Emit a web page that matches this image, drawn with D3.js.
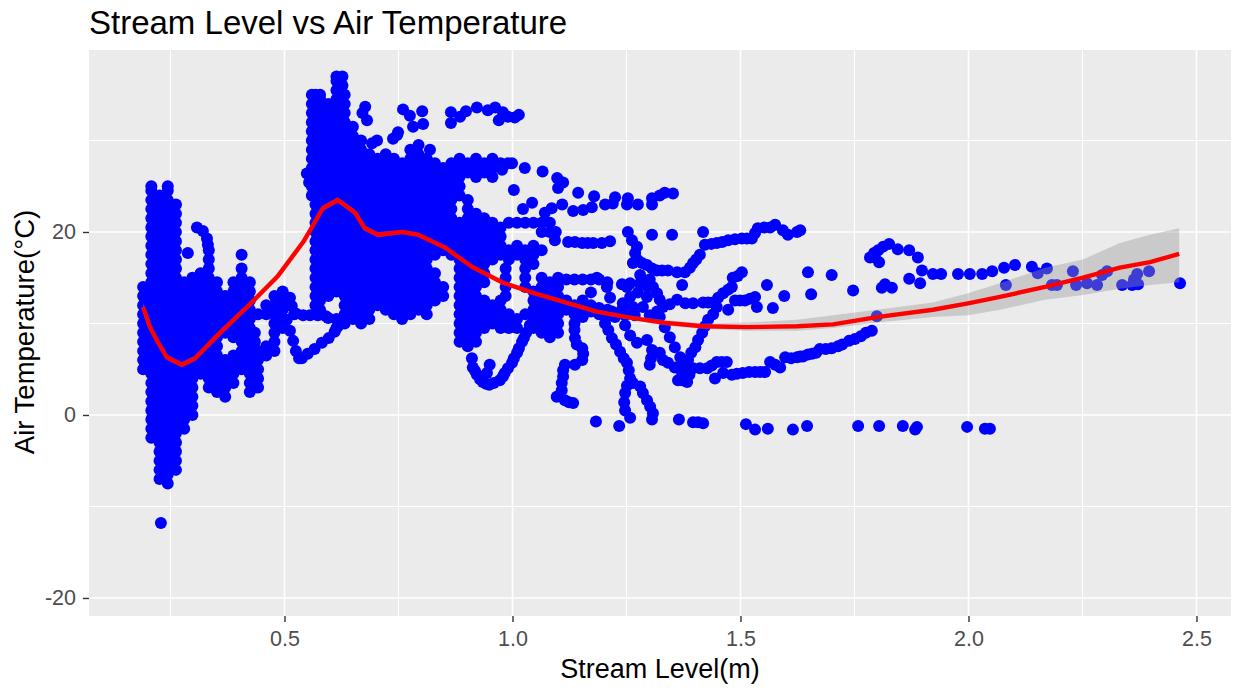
<!DOCTYPE html>
<html>
<head>
<meta charset="utf-8">
<title>Stream Level vs Air Temperature</title>
<script src="https://cdn.jsdelivr.net/npm/d3@7"></script>
<style>
  html, body { margin: 0; padding: 0; background: #fff; }
  svg { display: block; font-family: "Liberation Sans", Arial, sans-serif; }
</style>
</head>
<body>
<div id="chart"></div>
<script>
// tick labels
const xMajorTicks = [0.5, 1.0, 1.5, 2.0, 2.5];
const xMinorTicks = [0.25, 0.75, 1.25, 1.75, 2.25];
const yMajorTicks = [-20, 0, 20];
const yMinorTicks = [-10, 10, 30];

const crowdedLow = [
  [0.19, [14,13,12,11,10,9,8,7,6,5]],
  [0.208, [25,24.5,23.5,22.5,21.5,20.5,19.5,18.5,17.5,16.5,15.5,14.5,13.5,12.5,11.5,10.5,9.5,8.5,7.5,6.5,5.5,4.5,3.5,2.5,1.5,0.5,-0.5,-1.5,-2.5]],
  [0.226, [24,23,22,21,20,19,18,17,16,15,14,13,12,11,10,9,8,7,6,5,4,3,2,1,0,-1,-2,-3,-4,-5,-6,-7]],
  [0.244, [25,24.5,23.5,22.5,21.5,20.5,19.5,18.5,17.5,16.5,15.5,14.5,13.5,12.5,11.5,10.5,9.5,8.5,7.5,6.5,5.5,4.5,3.5,2.5,1.5,0.5,-0.5,-1.5,-2.5,-3.5,-4.5,-5.5,-6.5,-7.5]],
  [0.262, [23,22,21,20,19,18,17,16,15,14,13,12,11,10,9,8,7,6,5,4,3,2,1,0,-1,-2,-3,-4,-5,-6]],
  [0.28, [14.5,13.5,12.5,11.5,10.5,9.5,8.5,7.5,6.5,5.5,4.5,3.5,2.5,1.5,0.5,-0.5,-1.5]],
  [0.298, [15,14,13,12,11,10,9,8,7,6,5,4,3,2,1,0]],
  [0.316, [15.5,14.5,13.5,12.5,11.5,10.5,9.5,8.5,7.5,6.5,5.5,4.5]],
  [0.334, [18,17,16,15,14,13,12,11,10,9,8,7,6,5,4,3]],
  [0.352, [14.5,13.5,12.5,11.5,10.5,9.5,8.5,7.5,6.5,5.5,4.5,3.5,2.5]],
  [0.37, [13,12,11,10,9,6,5,4,3,2]],
  [0.388, [14.5,13.5,12.5,11.5,10.5,9.5,8.5,6.5,5.5,4.5,3.5]],
  [0.406, [17.5,16,15,14,13,12,11,10,9,8,7,6,5]],
  [0.424, [14.5,13.5,12.5,11.5,10.5,9.5,8.5,7.5,6.5,5.5,4.5,3.5,2.5]],
  [0.435, [9,8]],
  [0.442, [11,7,6,5,4,3]],
  [0.46, [12,11,7.5,6.5]],
  [0.478, [13,12,11,10,9,8,7]],
  [0.496, [13.5,12.5,11.5,10.5,9.5]]
];

const crowdedMid = [
  [0.56, [35,34,33,32,31,30,29,28,27,26,25,24]],
  [0.568, [35,23,22,21,20,19,18,17,16,15,14,13,12,11]],
  [0.578, [35,34.5,33.5,32.5,31.5,30.5,29.5,28.5,27.5,26.5,25.5,24.5,23.5,22.5,21.5,20.5,19.5,18.5,17.5,16.5,15.5,14.5,13.5,12.5,11.5,11]],
  [0.596, [34,33,32,31,30,29,28,27,26,25,24,23,22,21,20,19,18,17,16,15,14,13,10.6]],
  [0.614, [37,36.5,35.5,34.5,33.5,32.5,31.5,30.5,29.5,28.5,27.5,26.5,25.5,24.5,23.5,22.5,21.5,20.5,19.5,18.5,17.5,16.5,15.5,14.5,13.5,10.5,9.5]],
  [0.62, [36.5,35.5]],
  [0.627, [37,36]],
  [0.632, [35,34,33,32,31,30,29,28,27,26,25,24,23,22,21,20,19,18,17,16,15,14,13,12,11,10]],
  [0.65, [31.5,30.5,29.5,28.5,27.5,26.5,25.5,24.5,23.5,22.5,21.5,20.5,19.5,18.5,17.5,16.5,15.5,14.5,13.5,12.5,11.5,10.5]],
  [0.668, [30,29,28,27,26,25,24,23,22,21,20,19,18,17,16,15,14,13,12,11,10]],
  [0.686, [28.5,27.5,26.5,25.5,24.5,23.5,22.5,21.5,20.5,19.5,18.5,17.5,16.5,15.5,14.5,13.5,12.5,11.5,10.5]],
  [0.704, [28,27,26,25,24,23,22,21,20,19,18,17,16,15,14,13,12]],
  [0.722, [28.5,27.5,26.5,25.5,24.5,23.5,22.5,21.5,20.5,19.5,18.5,17.5,16.5,15.5,14.5,13.5,12.5,11.5]],
  [0.74, [28,27,26,25,24,23,22,21,20,19,18,17,16,15,14,13,12,11]],
  [0.758, [27.5,26.5,25.5,24.5,23.5,22.5,21.5,20.5,19.5,18.5,17.5,16.5,15.5,14.5,13.5,12.5,11.5,10.5]],
  [0.776, [29,28,27,26,25,24,23,22,21,20,19,18,17,16,15,14,13,12,11]],
  [0.794, [29.5,28.5,27.5,26.5,25.5,24.5,23.5,22.5,21.5,20.5,19.5,18.5,17.5,16.5,15.5,14.5,13.5,12.5,11.5]],
  [0.812, [28,27,26,25,24,23,22,21,20,19,18,17,16,15,14,13,12,11]],
  [0.83, [27.5,26.5,25.5,24.5,23.5,22.5,21.5,20.5,19.5,18.5,17.5,15.5,14.5,13.5,12.5]],
  [0.848, [27,26,25,24,23,22,21,20,19,18,14,13]],
  [0.866, [27.5,26.5,25.5,24.5,23.5,22.5,21.5,20.5,19.5,18.5,17.5]],
  [0.884, [28,27,26,25,24,21,20,19,18,17,16,15,14,13,12,11,10,9,8]],
  [0.902, [27.5,26.5,23.5,22.5,21.5,20.5,19.5,18.5,17.5,16.5,15.5,14.5,13.5,12.5,11.5,10.5,9.5,8.5,7.5]],
  [0.92, [28,27,26,22,21,20,19,18,17,16,15,14,13,12,11,10,9,8]],
  [0.938, [27.5,26.5,21.5,20.5,19.5,18.5,17.5,16.5,15.5,14.5,12.5,11.5,10.5,9.5]],
  [0.956, [28,27,26,21,20,19,18,17,12,11,10]],
  [0.974, [27.5,20.5,19.5,18.5,17.5,12.5,11.5,10.5,9.5]],
  [0.985, [16,15,14,13]],
  [0.992, [21,18,17,11,10,9.5]],
  [1.01, [21,18.5,17.5,10.5,9.5]],
  [1.028, [21,18,17,16,15,14,11]],
  [1.046, [21,18.5,17.5,16.5,13.5,12.5,11.5,10.5,9.5]],
  [1.064, [21,20,18,15,14,13,12,11,10,9]],
  [1.082, [21,20,14.5,13.5,12.5,11.5,10.5,9.5,8.5]],
  [1.1, [15,14,13,12,11,10,9]],
  [1.118, [14.8,12.5,11.5]],
  [1.136, [14.8,12,11,10,9.3]],
  [1.154, [14.8,12.5,11.5,10.7]],
  [1.172, [14.8,13.4,12,11.3]],
  [1.19, [14.8,11.7,11]],
  [1.208, [14.5,11.5,10.8]]
];

// single readings: [level, temperature]
const looseLeft = [
  [0.229,-11.8],[0.288,17.7],[0.308,20.5],[0.321,20.1],[0.33,19.3],[0.332,18.6],
  [0.512,12.8],[0.516,11.9],[0.521,11],[0.505,10.4],[0.512,9.2],[0.519,8.1],[0.525,7],[0.532,6.2],
  [0.538,6.2],[0.551,6.7],[0.566,7.2],[0.582,7.9],[0.597,8.4],[0.61,9.1],[0.617,9.7],
  [0.541,10.9],[0.525,11.1],[0.556,10.9],[0.573,10.9],[0.591,10.8],
  [0.549,26.4],[0.554,25.4]
];

const looseTop = [
  [0.76,33.4],[0.775,32.7],[0.802,33.2],[0.782,31.5],[0.804,31.8],[0.749,30.9],[0.738,30.2],[0.747,30.6],
  [0.865,33.1],[0.865,31.9],[0.885,32.6],[0.898,33.2],[0.922,33.6],[0.946,33.3],[0.962,33.6],[0.979,33.1],
  [0.97,32.2],[0.99,32.6],[1.005,32.5],[1.014,32.8],[0.677,33.7],[0.671,33],[0.681,32.2],
  [0.703,30],[0.692,29.7],[0.819,29],[0.99,27.5],[0.977,26.8],[0.999,27.5],
  [1.027,27],[1.003,24.6],[1.023,22.5],[1.043,23.2],[1.066,26.6],[1.098,25.9],[1.111,25.4],[1.1,24.8],
  [1.144,24.3],[1.179,23.9],[1.225,23.8],[1.253,23.7],[1.275,23],[1.251,23],[1.22,23.1],[1.203,23],
  [1.306,23],[1.306,23.7],[1.323,24],[1.352,24.2],[1.334,24.3],[1.109,23],[1.133,22.3],[1.174,22.7],
  [1.155,22.4],[1.086,22.6],[1.071,22.1],[1.095,20],[1.093,19.1],[1.122,18.9],[1.137,18.9],[1.153,18.8],[1.165,18.8],[1.177,18.8],
  [1.196,18.8],[1.214,19]
];

const looseMiddle = [
  [1.253,20],[1.262,19.1],[1.273,18.4],[1.269,17.7],[1.264,16.6],[1.275,16.9],[1.284,16.6],[1.295,16.4],[1.306,16],[1.317,15.8],[1.328,15.8],
  [1.341,15.8],[1.361,15.6],[1.378,15.6],[1.389,16.1],[1.396,16.6],[1.403,17],[1.411,17.5],[1.422,18.6],[1.436,18.7],[1.448,18.8],[1.46,18.9],[1.473,19.1],[1.488,19.2],
  [1.503,19.3],[1.514,19.3],[1.525,19.3],[1.532,19.9],[1.538,20.4],[1.552,20.5],[1.565,20.5],[1.576,20.8],[1.593,20.2],[1.604,19.7],[1.624,20],
  [1.631,20.2],[1.306,19.7],[1.35,19.7],[1.418,20],[1.28,15.3],[1.258,14.4],[1.24,14.3],[1.28,14.4],[1.286,14.5],
  [1.251,14],[1.297,14],[1.308,14],[1.301,14.8],[1.317,13.3],[1.323,12.6],[1.33,11.8],[1.345,12.1],[1.361,12.6],[1.379,12.2],[1.396,12.2],[1.418,12.3],[1.429,12.3],
  [1.44,12.3],[1.451,12.8],[1.462,13.3],[1.473,13.7],[1.481,14],[1.483,15],[1.494,15.2],[1.503,15.6],[1.372,14.2],[1.488,12.5],[1.499,12.5],[1.51,12.5],[1.521,12.7],
  [1.532,12.9],[1.536,11.8],[1.571,11.7],[1.558,14.2],[1.596,13],[1.648,15.6],[1.655,13.2],[1.7,15.3],
  [1.747,13.6],[1.473,11.5],[1.448,11.8],[1.44,11],[1.429,10.4],[1.422,9.7],[1.416,9],[1.407,8.2],[1.401,7.4],[1.392,6.8],[1.385,6],[1.378,5.4],[1.372,4.6],
  [1.242,12.2],[1.258,12.9],[1.275,13.4],[1.295,12.9],[1.286,11.8],[1.264,11.8],[1.24,11.5],[1.317,11.3],
  [1.301,10.9],[1.268,10.9],[1.247,10.9],[1.225,10.7],[1.247,9.8],
  [1.218,11.3],[1.185,15],[1.207,14],[1.214,12.8],[1.203,10],[1.218,8.4],[1.236,6.9],[1.251,5.7],[1.258,4],
  [1.247,2.4],[1.247,0.5],[1.258,-0.3],[1.264,3.5],[1.28,3.1],[1.295,1.6],[1.308,0.2],[1.306,-0.5],
  [1.21,9.3],[1.227,7.7],[1.244,6.2],[1.255,4.9],[1.251,3.2],[1.245,1.4],[1.286,2.4],[1.302,0.9],
  [1.258,8.7],[1.273,7.9],[1.295,8.2],[1.306,7.1],[1.304,6.2],[1.323,6.8],[1.301,5.5],[1.33,6],[1.341,5.7],[1.356,5.2],[1.363,3.8],[1.372,3.8],
  [1.383,3.6],[1.388,4.4],[1.396,5.1],[1.411,5.1],[1.427,5.1],[1.437,5.4],[1.448,5.8],[1.459,5.8],[1.47,5.8],[1.444,4],[1.462,4.6],[1.481,4.4],[1.492,4.5],[1.505,4.6],
  [1.519,4.7],[1.532,4.7],[1.543,4.7],[1.554,4.7],[1.565,5.8],[1.576,5.5],[1.587,5.2],[1.598,6.3],[1.611,6.2],[1.624,6.3],[1.648,6.6],[1.674,7.2],[1.687,7.2],[1.7,7.3],
  [1.323,10.7],[1.334,9.6],[1.345,8.5],[1.356,7.4],[1.368,6.3],[1.37,5.4],
  [1.631,6.4],[1.637,6.4],[1.657,6.7],[1.666,6.8],[1.714,7.5],[1.723,7.7],[1.738,8.1],[1.751,8.3],[1.764,8.6],[1.775,9],[1.788,9.2],[1.799,10.8]
];

const looseLower = [
  [1.141,7.7],[1.153,7.3],[1.155,6.7],[1.153,6],[1.137,5.5],[1.115,5.5],[1.111,4.9],[1.111,4.2],[1.108,3.5],[1.108,2.7],[1.097,2],[1.115,1.6],[1.124,1.4],
  [1.133,1.3],[1.137,8.4],[0.913,5.2],[0.918,4.8],[0.922,4.4],[0.929,3.9],[0.935,3.6],[0.942,3.4],[0.949,3.3],[0.959,3.5],[0.972,3.8],[0.979,4.2],[0.983,4.6],[0.99,5.1],[0.999,5.7],[1.003,6.2],
  [1.01,6.8],[1.014,7.3],[1.021,8],[1.025,8.4],[1.03,9],[0.95,5.5],[0.944,4.6],[0.911,6.2],[1.038,9.8],
  [1.183,-0.7],[1.234,-1.2],[1.365,-0.5],[1.396,-0.8],[1.407,-0.8],[1.418,-0.9],[1.512,-1],[1.532,-1.6],
  [1.56,-1.5],[1.615,-1.6],[1.646,-1.2],[1.758,-1.2],[1.804,-1.2],[1.856,-1.2],[1.883,-1.6],[1.887,-1.3],
  [1.997,-1.3],[2.036,-1.5],[2.047,-1.5]
];

const looseRight = [
  [1.784,17.2],[1.793,17.7],[1.802,18],[1.813,18.4],[1.826,18.7],[1.845,18.1],[1.87,18],[1.889,17.2],[1.898,15.8],
  [1.87,14.9],[1.894,14.4],[1.804,16.7],[1.795,17.2],[1.81,13.9],[1.817,14.3],[1.832,13.9],[1.922,15.4],[1.94,15.4],
  [1.977,15.4],[2.003,15.4],[2.03,15.4],[2.052,15.7],[2.078,16.1],[2.102,16.4],[2.139,16.2],[2.152,15.5],[2.172,16],
  [2.082,14.2],[2.183,14.2],[2.194,14.2],[2.229,15.7],[2.236,14.2],[2.26,14.4],[2.282,14.2],[2.293,15.3],[2.304,15.7],
  [2.337,14.2],[2.359,14.2],[2.37,15.4],[2.363,14.8],[2.372,14.3],[2.396,15.7],[2.464,14.4]
];

// fitted trend and its band
const trendLevels = [0.19,0.205,0.223,0.242,0.275,0.304,0.359,0.418,0.484,0.541,0.56,0.584,0.617,0.655,0.676,0.705,0.758,0.793,0.852,0.911,0.977,1.049,1.185,1.251,1.33,1.418,1.514,1.624,1.703,1.799,1.922,1.999,2.069,2.168,2.251,2.332,2.398,2.462];
const trendTemps = [11.8,9.6,7.9,6.3,5.5,6.2,9,11.8,15.1,18.9,20.5,22.6,23.5,22.1,20.4,19.7,20,19.7,18.3,16.2,14.5,13.3,11.3,10.7,10.1,9.7,9.6,9.7,9.9,10.7,11.5,12.2,12.9,14,15,16.1,16.7,17.6];
const trendHigh = [12.3,10,8.2,6.6,5.8,6.5,9.3,12.1,15.4,19.2,20.8,22.9,23.8,22.4,20.7,20,20.2,19.9,18.5,16.4,14.7,13.5,11.5,10.9,10.4,10,10.1,10.4,10.9,11.5,12.3,13.3,14.4,16.1,17,18.8,19.7,20.4];
const trendLow = [11.3,9.2,7.6,6,5.2,5.9,8.7,11.5,14.8,18.6,20.2,22.3,23.2,21.8,20.1,19.4,19.8,19.5,18.1,16,14.3,13.1,11.1,10.5,9.8,9.4,9.2,9.2,9.5,10.1,10.7,10.9,11.5,12.6,13.1,13.8,14.2,14.5];

const width = 1235, height = 698;
const panel = { left: 89, right: 1231, top: 50, bottom: 616 };

const x = d3.scaleLinear().domain([0.0713, 2.5757]).range([panel.left, panel.right]);
const y = d3.scaleLinear().domain([-21.97, 39.89]).range([panel.bottom, panel.top]);

const svg = d3.select('#chart').append('svg')
  .attr('width', width)
  .attr('height', height)
  .attr('viewBox', `0 0 ${width} ${height}`);

svg.append('rect')
  .attr('x', panel.left)
  .attr('y', panel.top)
  .attr('width', panel.right - panel.left)
  .attr('height', panel.bottom - panel.top)
  .attr('fill', '#EBEBEB');

// grid lines, minor ones thinner like ggplot
const grid = svg.append('g').attr('stroke', '#fff').attr('fill', 'none');
grid.selectAll('line.vmin').data(xMinorTicks).join('line').attr('class', 'vmin')
  .attr('x1', d => x(d)).attr('x2', d => x(d)).attr('y1', panel.top).attr('y2', panel.bottom).attr('stroke-width', 1);
grid.selectAll('line.hmin').data(yMinorTicks).join('line').attr('class', 'hmin')
  .attr('y1', d => y(d)).attr('y2', d => y(d)).attr('x1', panel.left).attr('x2', panel.right).attr('stroke-width', 1);
grid.selectAll('line.vmaj').data(xMajorTicks).join('line').attr('class', 'vmaj')
  .attr('x1', d => x(d)).attr('x2', d => x(d)).attr('y1', panel.top).attr('y2', panel.bottom).attr('stroke-width', 1.6);
grid.selectAll('line.hmaj').data(yMajorTicks).join('line').attr('class', 'hmaj')
  .attr('y1', d => y(d)).attr('y2', d => y(d)).attr('x1', panel.left).attr('x2', panel.right).attr('stroke-width', 1.6);

// flatten the per-level columns into single readings
const crowded = crowdedLow.concat(crowdedMid)
  .flatMap(([level, temps]) => temps.map(t => [level, t]));
const readings = crowded.concat(looseLeft, looseTop, looseMiddle, looseLower, looseRight);

svg.append('g').attr('fill', '#0000FF')
  .selectAll('circle').data(readings).join('circle')
  .attr('cx', d => x(d[0]))
  .attr('cy', d => y(d[1]))
  .attr('r', 6);

const trend = trendLevels.map((level, i) => ({ level, temp: trendTemps[i], high: trendHigh[i], low: trendLow[i] }));

svg.append('path').datum(trend)
  .attr('fill', '#999999')
  .attr('fill-opacity', 0.4)
  .attr('d', d3.area().x(d => x(d.level)).y0(d => y(d.low)).y1(d => y(d.high)));

svg.append('path').datum(trend)
  .attr('fill', 'none')
  .attr('stroke', '#FF0000')
  .attr('stroke-width', 4.4)
  .attr('stroke-linejoin', 'round')
  .attr('d', d3.line().x(d => x(d.level)).y(d => y(d.temp)));

// axes
const xAxis = svg.append('g')
  .attr('transform', `translate(0,${panel.bottom})`)
  .call(d3.axisBottom(x).tickValues(xMajorTicks).tickFormat(d3.format('.1f')).tickSize(6).tickPadding(9));
const yAxis = svg.append('g')
  .attr('transform', `translate(${panel.left},0)`)
  .call(d3.axisLeft(y).tickValues(yMajorTicks).tickFormat(d => d).tickSize(6).tickPadding(7));
[xAxis, yAxis].forEach(a => {
  a.select('.domain').remove();
  a.selectAll('.tick line').attr('stroke', '#333333').attr('stroke-width', 1.4);
  a.selectAll('.tick text')
    .attr('fill', '#4D4D4D')
    .style('font-family', '"Liberation Sans", Arial, sans-serif')
    .style('font-size', '21.5px');
});

svg.append('text')
  .attr('x', panel.left)
  .attr('y', 34)
  .attr('fill', '#000')
  .style('font-size', '33px')
  .text('Stream Level vs Air Temperature');

svg.append('text')
  .attr('x', (panel.left + panel.right) / 2)
  .attr('y', 678)
  .attr('text-anchor', 'middle')
  .attr('fill', '#000')
  .style('font-size', '27px')
  .text('Stream Level(m)');

svg.append('text')
  .attr('transform', `translate(34,332) rotate(-90)`)
  .attr('text-anchor', 'middle')
  .attr('fill', '#000')
  .style('font-size', '27.5px')
  .text('Air Temperature(°C)');
</script>
</body>
</html>
